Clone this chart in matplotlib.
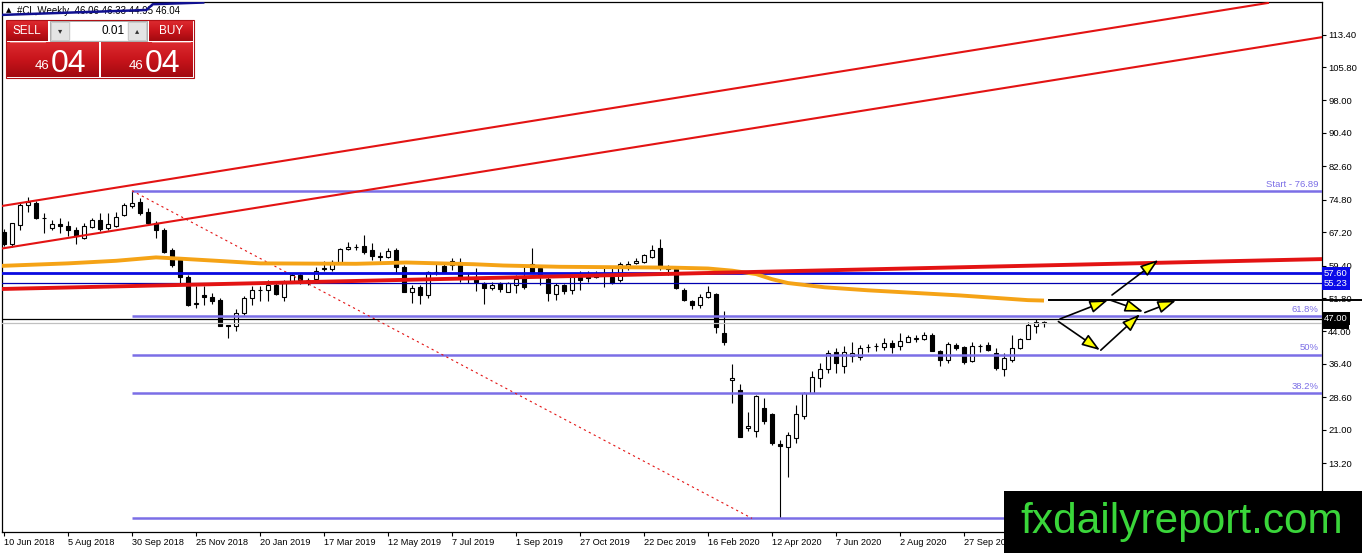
import matplotlib
matplotlib.use("Agg")
import matplotlib.pyplot as plt
import matplotlib.transforms as mtransforms
from matplotlib.patches import Rectangle, FancyArrowPatch
from matplotlib.colors import LinearSegmentedColormap
import numpy as np

plt.rcParams['font.family'] = ['Liberation Sans', 'DejaVu Sans']

# ---------------- data ----------------
symbol = "#CL,Weekly"
opens = [67.3, 64.4, 68.9, 73.55, 74.1, 70.5, 68.1, 69.1, 68.6, 67.7,
         65.8, 68.5, 70.0, 68.1, 68.6, 71.2, 73.2, 74.3, 71.8, 69.3,
         67.7, 63.0, 60.7, 56.8, 50.4, 52.5, 52.1, 51.3, 45.4, 45.3,
         48.2, 51.7, 53.6, 53.7, 54.8, 52.0, 55.6, 57.2, 56.1, 56.2,
         58.6, 58.5, 60.1, 63.2, 63.7, 64.0, 63.0, 61.3, 61.5, 63.0,
         59.0, 53.3, 54.4, 52.5, 57.8, 59.4, 59.5, 60.3, 56.5, 56.6,
         55.2, 54.2, 55.2, 53.3, 54.8, 56.4, 59.7, 58.7, 56.2, 52.7,
         54.8, 53.7, 56.8, 57.2, 57.3, 57.1, 56.8, 56.0, 59.4, 59.9,
         60.3, 61.5, 63.6, 59.0, 58.6, 53.7, 51.1, 50.2, 52.1, 52.7,
         43.7, 32.6, 30.3, 21.3, 20.8, 26.0, 24.7, 17.7, 16.9, 19.0,
         24.2, 29.7, 33.2, 35.1, 39.2, 35.9, 38.2, 37.9, 40.3, 40.5,
         40.3, 41.2, 40.6, 41.6, 42.3, 42.1, 43.1, 39.3, 37.3, 40.8,
         40.3, 37.1, 40.5, 40.8, 38.9, 35.1, 37.3, 40.0, 42.1, 45.3,
         46.06]
closes = [64.4, 69.3, 73.55, 74.3, 70.4, 70.4, 69.1, 68.6, 67.7, 66.2,
          68.6, 70.0, 67.9, 69.1, 70.8, 73.55, 74.1, 71.6, 69.3, 67.7,
          62.6, 59.5, 56.8, 50.2, 50.7, 52.1, 51.2, 45.3, 45.3, 48.2,
          51.7, 53.7, 53.7, 54.8, 52.7, 55.6, 57.2, 56.0, 56.0, 58.2,
          58.7, 60.3, 63.2, 63.8, 63.8, 62.6, 61.7, 61.7, 62.8, 59.0,
          53.3, 54.2, 52.5, 57.9, 57.9, 57.9, 60.5, 56.4, 56.6, 55.5,
          54.2, 54.8, 53.8, 55.2, 56.2, 54.4, 57.9, 56.8, 52.9, 54.8,
          53.5, 56.6, 56.0, 56.4, 56.8, 57.2, 55.2, 59.7, 59.7, 60.5,
          61.9, 63.0, 59.1, 58.6, 54.1, 51.3, 50.2, 52.1, 53.3, 45.1,
          41.4, 33.0, 19.4, 21.9, 28.9, 23.1, 17.8, 17.2, 19.8, 24.6,
          29.7, 33.4, 35.3, 39.0, 36.5, 39.2, 39.0, 40.0, 40.4, 40.6,
          41.2, 40.4, 41.8, 42.6, 42.4, 43.1, 39.3, 37.2, 41.0, 40.0,
          36.9, 40.6, 40.6, 39.6, 35.4, 37.7, 40.0, 42.1, 45.5, 46.3,
          46.04]
highs = [67.9, 69.4, 74.3, 75.5, 74.5, 71.6, 70.0, 70.4, 69.9, 68.5,
         69.4, 70.4, 71.6, 71.6, 71.8, 73.9, 76.89, 75.1, 72.8, 69.7,
         68.1, 63.4, 61.1, 57.2, 54.5, 54.6, 52.9, 51.7, 45.5, 49.2,
         52.3, 54.6, 54.5, 56.0, 55.6, 56.0, 57.6, 57.6, 56.4, 59.0,
         60.5, 60.7, 63.4, 64.9, 64.4, 66.5, 64.6, 62.6, 63.6, 63.4,
         59.5, 54.8, 54.8, 58.1, 59.7, 60.3, 61.2, 61.1, 57.6, 58.7,
         55.5, 55.6, 55.6, 55.6, 57.2, 59.1, 63.6, 59.1, 56.6, 55.2,
         55.0, 57.2, 58.1, 58.0, 58.0, 58.7, 58.7, 60.3, 60.5, 61.2,
         62.0, 64.2, 65.6, 59.5, 58.9, 54.1, 51.3, 52.7, 54.5, 52.9,
         48.8, 36.4, 31.7, 25.2, 29.1, 28.3, 24.8, 18.5, 20.5, 26.8,
         29.9, 34.8, 36.5, 39.6, 40.0, 40.6, 41.6, 40.8, 41.0, 41.3,
         42.4, 42.0, 43.5, 43.1, 43.1, 43.9, 43.5, 39.6, 41.6, 41.2,
         40.6, 41.6, 41.0, 41.6, 40.0, 38.9, 43.1, 42.4, 46.3, 46.8,
         46.33]
lows = [63.9, 63.8, 67.7, 72.0, 70.2, 66.9, 67.7, 66.9, 66.2, 64.4,
        65.5, 68.1, 67.5, 67.6, 68.5, 71.0, 72.8, 71.2, 69.1, 65.8,
        62.3, 59.1, 55.4, 50.0, 49.4, 50.2, 50.4, 45.2, 42.4, 44.2,
        47.8, 50.2, 51.2, 51.2, 52.5, 51.2, 55.2, 55.1, 54.8, 56.0,
        58.0, 58.2, 59.9, 63.0, 63.0, 62.2, 60.8, 60.5, 61.2, 57.6,
        53.1, 50.6, 50.4, 51.7, 57.2, 57.6, 58.4, 55.6, 55.2, 53.5,
        50.4, 53.7, 53.3, 53.1, 52.9, 53.9, 57.9, 54.8, 51.1, 51.3,
        52.7, 52.7, 53.7, 55.6, 56.4, 54.4, 55.0, 55.5, 58.4, 59.7,
        60.1, 61.2, 58.3, 57.2, 53.9, 51.1, 49.2, 49.5, 51.7, 43.7,
        40.8, 27.2, 19.4, 20.8, 19.2, 22.3, 17.4, 0.27, 10.0, 17.8,
        23.4, 29.5, 31.1, 34.2, 34.3, 34.2, 36.9, 37.3, 39.2, 39.3,
        39.6, 39.0, 39.6, 41.4, 41.6, 42.0, 39.3, 35.9, 36.7, 39.6,
        36.4, 36.9, 39.2, 39.3, 35.0, 33.6, 36.9, 39.8, 42.1, 43.7,
        44.95]

date_tick_idx = [0, 8, 16, 24, 32, 40, 48, 56, 64, 72, 80, 88, 96, 104, 112, 120]
date_tick_labels = ["10 Jun 2018", "5 Aug 2018", "30 Sep 2018", "25 Nov 2018",
                    "20 Jan 2019", "17 Mar 2019", "12 May 2019", "7 Jul 2019",
                    "1 Sep 2019", "27 Oct 2019", "22 Dec 2019", "16 Feb 2020",
                    "12 Apr 2020", "7 Jun 2020", "2 Aug 2020", "27 Sep 2020"]
price_ticks = [113.40, 105.80, 98.00, 90.40, 82.60, 74.80, 67.20, 59.40,
               51.80, 44.00, 36.40, 28.60, 21.00, 13.20]

# moving average (read points)
ma_x = [-0.5, 8, 14, 19, 22, 26.6, 32, 44, 50.3, 58.7, 62.4, 69.5, 83.6, 88,
        91, 94, 96, 98, 102.6, 108, 119.5, 128, 130]
ma_y = [59.3, 59.9, 60.5, 61.3, 61.0, 60.5, 59.9, 59.8, 60.1, 59.7, 59.4, 59.1,
        58.9, 58.7, 58.2, 57.4, 56.2, 55.3, 54.3, 53.6, 52.4, 51.3, 51.2]

# trend lines (anchor points)
chan1_x, chan1_y = [-0.5, 158.0], [73.25, 120.8]
chan2_x, chan2_y = [-0.5, 164.75], [63.3, 112.8]
trend_x, trend_y = [-0.5, 164.75], [53.9, 60.9]
top_line_x = [-0.3, 17.8, 18.6, 24.9]
top_line_y = [118.0, 119.15, 120.5, 120.9]

# fibonacci
fib_x0, fib_x1 = 16, 93.5
fib_hi, fib_lo = 76.89, 0.27
fib_ratios = [0.0, 0.382, 0.5, 0.618, 1.0]
fib_names = ["", "38.2%", "50%", "61.8%", "Start - 76.89"]

# horizontal levels
blue_thick = 57.60
blue_thin = 55.23
black_level = 47.00
bid_level = 46.04
ray_x0, ray_level = 130.6, 51.33

# projection arrows
arrow_x0 = [132.0, 131.8, 137.1, 138.3, 142.6, 138.5]
arrow_y0 = [46.9, 46.3, 39.6, 51.3, 48.4, 52.5]
arrow_x1 = [138.0, 137.0, 142.0, 142.4, 146.5, 144.3]
arrow_y1 = [51.3, 39.6, 48.0, 48.6, 51.2, 60.7]

watermark = "fxdailyreport.com"

# ---------------- figure ----------------
W, H = 1362, 553
fig = plt.figure(figsize=(W / 100, H / 100), dpi=100)
fig.patch.set_facecolor('white')
ax = fig.add_axes([2 / W, 21 / H, 1320 / W, 530 / H])
XMIN, XMAX = -0.25, 164.75
ax.set_xlim(XMIN, XMAX)
ax.set_ylim(-2.92, 121.02)
for s in ax.spines.values():
    s.set_linewidth(0.9)
    s.set_color('black')

fibc = '#7b6ee6'
red = '#e31313'

# candles
x = np.arange(len(opens))
o = np.array(opens); c = np.array(closes)
ax.vlines(x, lows, highs, color='black', lw=0.8, zorder=2)
bottoms = np.minimum(o, c)
heights = np.maximum(np.abs(c - o), 0.08)
cols = ['white' if cc >= oo else 'black' for oo, cc in zip(o, c)]
ax.bar(x, heights, bottom=bottoms, width=0.62, color=cols, edgecolor='black',
       linewidth=0.8, zorder=2.5)

# fib
for r, name in zip(fib_ratios, fib_names):
    lvl = fib_lo + r * (fib_hi - fib_lo)
    ax.hlines(lvl, fib_x0, XMAX, color=fibc, lw=1.8, zorder=3)
    if name:
        ax.text(XMAX - 0.4, lvl + 0.5, name, ha='right', va='bottom',
                color=fibc, fontsize=6.8, zorder=3)
ax.plot([fib_x0, fib_x1], [fib_hi, fib_lo], color=red, lw=0.8,
        ls=(0, (2, 3)), zorder=3)

# horizontal lines
ax.axhline(blue_thick, color='#0a0ae0', lw=2.0, zorder=3)
ax.axhline(blue_thin, color='#0000b0', lw=0.9, zorder=3)
ax.axhline(black_level, color='black', lw=0.9, zorder=3)
ax.axhline(bid_level, color='#c0c0c0', lw=0.9, zorder=2.8)
ax.plot([ray_x0, 169.75], [ray_level, ray_level], color='black', lw=1.4,
        zorder=3, clip_on=False)

# MA
ax.plot(ma_x, ma_y, color='#f5a316', lw=2.8, zorder=3.2, solid_capstyle='butt')

# trend lines
ax.plot(chan1_x, chan1_y, color=red, lw=1.5, zorder=3.3)
ax.plot(chan2_x, chan2_y, color=red, lw=1.5, zorder=3.3)
ax.plot(trend_x, trend_y, color=red, lw=2.8, zorder=3.3)
ax.plot(top_line_x, top_line_y, color='#101090', lw=1.8, zorder=3.6)

# arrows
for a, b, cc, d in zip(arrow_x0, arrow_y0, arrow_x1, arrow_y1):
    ax.add_patch(FancyArrowPatch((a, b), (cc, d),
                 arrowstyle='-|>,head_length=1.1,head_width=0.38',
                 mutation_scale=10, lw=1.2, edgecolor='black',
                 facecolor='#ffff00', shrinkA=0, shrinkB=0, zorder=4))

# axes ticks
ax.yaxis.tick_right()
ax.set_yticks(price_ticks)
ax.set_yticklabels([f"{v:.2f}" for v in price_ticks])
ax.tick_params(axis='y', length=3, width=0.8, pad=1.5, labelsize=6.8,
               colors='black')
ax.set_xticks(date_tick_idx)
ax.set_xticklabels(date_tick_labels)
ax.tick_params(axis='x', length=3, width=0.8, pad=1.5, labelsize=6.6)
for lbl in ax.get_xticklabels():
    lbl.set_ha('left')

# price labels on axis
bt = mtransforms.blended_transform_factory(ax.transAxes, ax.transData)
def axis_label(val, fc):
    ax.text(1.0016, val, f"{val:.2f}", transform=bt, ha='left', va='center',
            color='white', fontsize=6.8, clip_on=False, zorder=5,
            bbox=dict(boxstyle='square,pad=0.18', fc=fc, ec='none'))
axis_label(blue_thick, '#0a0ae8')
axis_label(blue_thin, '#0a0ae8')
axis_label(bid_level, 'black')
axis_label(black_level, 'black')

# header text
def px(xp, yp):
    return xp / W, 1 - yp / H
ax.text(*px(6, 10.5), "\u25B2", transform=fig.transFigure, fontsize=5,
        va='center', ha='left', color='black', zorder=3.5,
        family=['DejaVu Sans'])
ax.text(*px(17, 10.5),
        f"{symbol}  {opens[-1]:.2f} {highs[-1]:.2f} {lows[-1]:.2f} {closes[-1]:.2f}",
        transform=fig.transFigure, fontsize=7, va='center', ha='left',
        color='black', zorder=3.5)

# ---------------- overlay (trade panel + watermark) ----------------
ov = fig.add_axes([0, 0, 1, 1], zorder=10)
ov.patch.set_alpha(0)
ov.axis('off')

grad = np.linspace(0, 1, 64).reshape(-1, 1)
cmap_btn = LinearSegmentedColormap.from_list('b', ['#dc2a2f', '#c8141b', '#a20a10'])
for (x0, x1, y0, y1) in [(7, 99, 42, 77), (101, 193, 42, 77), (7, 48, 21, 41), (149, 193, 21, 41)]:
    ov.imshow(grad, extent=(x0, x1, y1, y0), cmap=cmap_btn, aspect='auto',
              interpolation='bicubic', zorder=1)
ov.add_patch(Rectangle((6, 20), 188, 58, fc='none', ec='#b01015', lw=0.8, zorder=2))
ov.add_patch(Rectangle((50, 21), 97, 20, fc='#f3f3f3', ec='#a0a0a0', lw=0.6, zorder=2))
ov.add_patch(Rectangle((51, 22), 18, 18, fc='#e4e4e4', ec='#bdbdbd', lw=0.5, zorder=3))
ov.add_patch(Rectangle((71, 22), 56, 18, fc='white', ec='none', zorder=3))
ov.add_patch(Rectangle((128, 22), 18, 18, fc='#e4e4e4', ec='#bdbdbd', lw=0.5, zorder=3))
ov.plot([10, 45], [42, 42], color='#f08080', lw=0.6, zorder=3)
ov.plot([152, 190], [42, 42], color='#f08080', lw=0.6, zorder=3)
ov.text(60, 31, "\u25BE", ha='center', va='center', fontsize=6, color='#333333',
        family=['DejaVu Sans'], zorder=4)
ov.text(137, 31, "\u25B4", ha='center', va='center', fontsize=6, color='#333333',
        family=['DejaVu Sans'], zorder=4)
ov.text(125, 31, "0.01", ha='right', va='center', fontsize=8.5, color='black', zorder=4)
ov.text(27, 31, "SELL", ha='center', va='center', fontsize=8.5, color='white', zorder=4)
ov.text(171, 31, "BUY", ha='center', va='center', fontsize=8.5, color='white', zorder=4)
bid_str = f"{closes[-1]:.2f}"
big_int, big_dec = bid_str.split('.')
for bx in (7, 101):
    ov.text(bx + 42, 69, big_int, ha='right', va='baseline', fontsize=9.5,
            color='white', zorder=4)
    ov.text(bx + 44, 72, big_dec, ha='left', va='baseline', fontsize=23,
            color='white', zorder=4)

ov.add_patch(Rectangle((1004, 491), W - 1004, H - 491, fc='black', ec='none', zorder=5))
ov.text(1020, 533, watermark, ha='left', va='baseline', fontsize=30.5,
        color='#3ad63a', zorder=6)

ov.set_xlim(0, W)
ov.set_ylim(H, 0)

fig.savefig('out.png', dpi=100)
